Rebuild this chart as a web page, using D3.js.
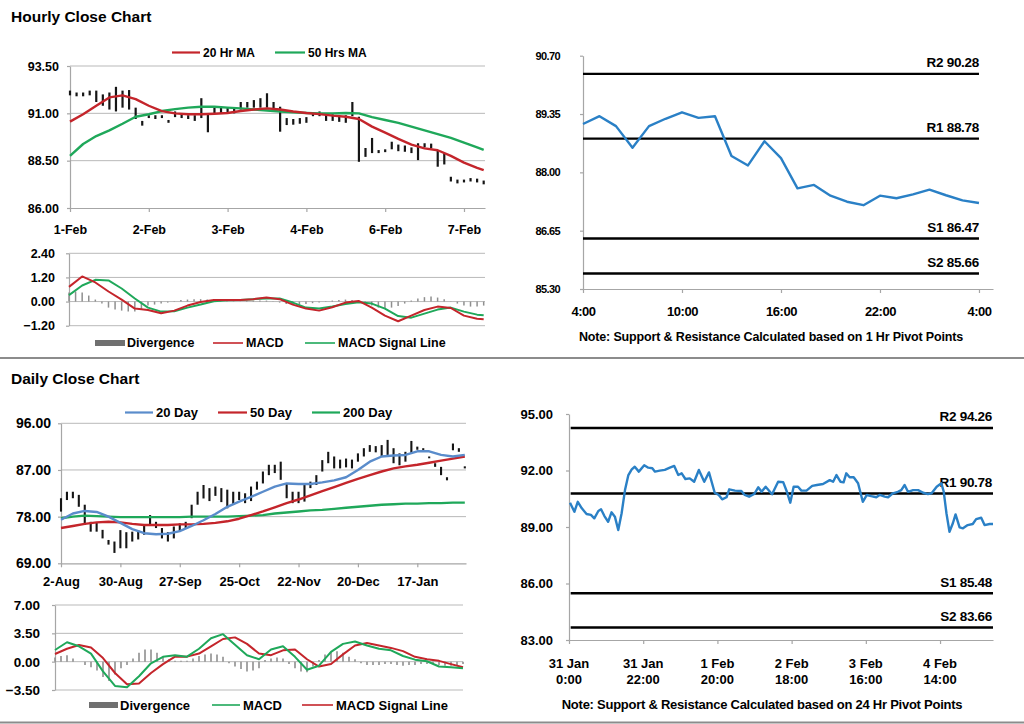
<!DOCTYPE html>
<html><head><meta charset="utf-8">
<script src="https://cdn.jsdelivr.net/npm/d3@7"></script>
<style>
body{margin:0;background:#fff;}
svg{display:block;font-family:"Liberation Sans",Arial,sans-serif;font-weight:bold;}
</style></head><body>
<svg id="c" width="1024" height="724"></svg>
<script>
// ---------------- DATA ----------------
// Hourly close chart (hours since 1-Feb 0:00, bars every 2 hours)
const hourlyTickHours = [0,24,48,72,96,120];
const hourlyTickLabels = ["1-Feb","2-Feb","3-Feb","4-Feb","6-Feb","7-Feb"];
const hourlyYTicks = [86.00,88.50,91.00,93.50];
const hourlyHigh = [92.2,92.1,92.1,92.2,92.2,92.0,92.1,92.4,92.2,92.23,91.3,90.6,90.9,90.9,90.9,90.65,91.1,91.0,90.9,90.9,91.8,91.0,91.3,91.35,91.3,91.3,91.6,91.6,91.7,91.8,92.06,91.6,91.35,90.75,90.7,90.75,90.8,91.05,91.1,91.0,90.95,90.9,90.9,91.6,90.82,89.17,89.7,89.06,89.1,89.5,89.35,89.3,89.2,89.42,89.42,89.4,89.06,88.9,87.65,87.5,87.5,87.58,87.55,87.45];
const hourlyLow  = [91.95,91.9,91.9,91.95,91.6,91.4,91.2,91.1,91.3,91.2,90.7,90.35,90.75,90.7,90.75,90.5,90.8,90.75,90.7,90.6,90.75,90.0,91.0,91.0,91.05,91.0,91.2,91.3,91.3,91.3,91.3,91.2,90.03,90.38,90.4,90.45,90.5,90.85,90.85,90.6,90.6,90.55,90.5,90.85,88.44,88.7,88.9,88.9,88.95,89.1,89.0,88.97,88.9,88.53,89.2,89.15,88.18,88.3,87.4,87.3,87.35,87.4,87.35,87.25];
const hourlyMAHours = [0,4,8,12,16,20,24,28,32,36,40,44,48,52,56,60,64,68,72,76,80,84,88,92,96,100,104,108,112,116,120,124,126];
const ma20Hr = [90.56,90.95,91.4,91.84,91.95,91.75,91.4,91.12,91.0,90.95,90.95,90.98,91.02,91.12,91.2,91.26,91.2,91.1,91.02,90.96,90.88,90.82,90.7,90.3,89.98,89.65,89.35,89.15,89.05,88.75,88.4,88.12,88.0];
const ma50Hr = [88.75,89.38,89.8,90.1,90.45,90.82,90.95,91.12,91.22,91.3,91.35,91.35,91.3,91.26,91.2,91.15,91.1,91.05,91.02,91.0,91.0,91.02,91.0,90.8,90.65,90.5,90.3,90.1,89.9,89.7,89.45,89.2,89.07];
const hourlyMacdYTicks = [-1.20,0.00,1.20,2.40];
const hourlyMacd   = [0.73,1.25,0.95,0.5,0.1,-0.35,-0.42,-0.58,-0.45,-0.2,-0.02,0.08,0.08,0.08,0.12,0.2,0.12,-0.15,-0.35,-0.45,-0.28,-0.05,0.03,-0.3,-0.7,-0.98,-0.7,-0.42,-0.25,-0.32,-0.7,-0.85,-0.88];
const hourlySignal = [0.32,0.8,1.08,1.05,0.65,0.15,-0.3,-0.5,-0.48,-0.3,-0.15,0.02,0.06,0.08,0.12,0.15,0.15,-0.05,-0.3,-0.35,-0.25,-0.12,-0.03,-0.1,-0.35,-0.72,-0.8,-0.6,-0.4,-0.3,-0.5,-0.65,-0.68];
const hourlyDivergence = [0.45,0.5,0.45,0.3,0.1,-0.1,-0.3,-0.4,-0.45,-0.5,-0.5,-0.4,-0.2,-0.15,-0.1,-0.05,0.02,0.08,0.1,0.12,0.12,0.1,0.08,0.05,0.03,0.02,0.02,0.03,0.04,0.05,0.05,0.02,-0.05,-0.12,-0.15,-0.15,-0.12,-0.08,-0.05,0.02,0.05,0.08,0.1,0.08,0.02,-0.1,-0.2,-0.3,-0.32,-0.3,-0.22,-0.1,0.05,0.15,0.22,0.25,0.2,0.12,0.02,-0.1,-0.2,-0.25,-0.25,-0.2];

// Hourly pivot chart (24 hours, 4:00 -> 4:00)
const pivotHourTicks = [0,6,12,18,24];
const pivotHourLabels = ["4:00","10:00","16:00","22:00","4:00"];
const pivotHourYTicks = [85.30,86.65,88.00,89.35,90.70];
const pivotHourClose = [89.12,89.30,89.07,88.57,89.07,89.24,89.39,89.26,89.30,88.38,88.16,88.72,88.33,87.63,87.71,87.46,87.32,87.24,87.46,87.40,87.49,87.60,87.47,87.35,87.29];
const pivotHourLevels = [{name:"R2",v:90.28},{name:"R1",v:88.78},{name:"S1",v:86.47},{name:"S2",v:85.66}];

// Daily close chart (trading days since 2-Aug, bars every 2 days)
const dailyTickDays = [0,20,40,60,80,100,120];
const dailyTickLabels = ["2-Aug","30-Aug","27-Sep","25-Oct","22-Nov","20-Dec","17-Jan"];
const dailyYTicks = [69.00,78.00,87.00,96.00];
const dailyHigh = [81.55,82.8,82.8,82.2,80.3,77.0,76.8,75.45,73.5,73.2,75.4,75.0,75.1,75.4,76.4,78.3,77.0,75.8,75.0,76.1,76.7,77.0,80.3,82.8,84.1,83.5,83.8,83.5,83.2,82.8,82.8,82.5,83.8,84.75,86.7,88.0,88.0,88.6,84.4,82.8,82.8,84.1,84.75,86.0,88.9,90.5,89.6,89.0,89.2,89.0,90.2,91.2,91.8,91.6,91.8,92.8,91.2,90.2,90.5,92.6,91.5,91.2,89.6,88.3,87.6,85.6,92.1,91.2,87.7];
const dailyLow  = [78.97,81.2,81.55,79.9,76.4,75.1,75.1,73.8,72.6,71.0,71.9,71.9,73.2,73.6,74.5,76.4,75.8,73.8,73.2,73.8,75.1,75.8,77.7,80.3,81.5,81.0,82.0,80.8,79.6,80.3,81.2,80.6,81.0,83.2,84.4,86.0,86.4,85.1,81.55,80.6,80.6,80.9,83.5,84.1,86.7,88.3,87.3,87.3,87.5,87.3,88.6,89.6,90.5,90.4,89.6,89.9,88.3,87.9,88.6,90.2,90.9,90.9,89.3,87.6,86.0,85.0,90.8,90.5,87.3];
const dailyMADays = [0,4,8,12,16,20,24,28,32,36,40,44,48,52,56,60,64,68,72,76,80,84,88,92,96,100,104,108,112,116,120,124,128,132,136];
const ma20Day  = [77.4,78.6,79.1,78.9,78.0,76.8,75.6,74.8,74.6,74.7,75.2,76.2,77.3,78.5,79.9,80.9,81.8,82.8,83.8,84.4,84.3,84.3,84.6,85.0,85.6,87.0,88.6,89.6,89.8,89.9,90.6,90.6,89.9,89.6,89.9];
const ma50Day  = [75.8,76.2,76.6,76.9,77.0,76.9,76.6,76.4,76.4,76.4,76.5,76.5,76.6,76.8,77.1,77.6,78.3,79.0,79.8,80.6,81.3,82.1,82.9,83.7,84.5,85.3,86.0,86.7,87.3,87.7,88.0,88.4,88.8,89.2,89.6];
const ma200Day = [77.7,78.0,78.2,78.1,78.0,77.9,77.9,77.9,77.9,77.9,77.9,78.0,78.0,78.0,78.0,78.1,78.2,78.3,78.6,78.8,79.0,79.2,79.3,79.5,79.7,79.9,80.1,80.3,80.4,80.5,80.5,80.6,80.6,80.7,80.7];
const dailyMacdYTicks = [-3.50,0.00,3.50,7.00];
const dailyMacd   = [1.44,2.4,1.9,1.0,-1.2,-3.0,-3.17,-1.8,-0.2,0.6,0.8,0.62,1.6,2.9,3.4,2.1,0.8,0.3,1.5,1.9,0.6,-1.0,-0.5,1.2,2.2,2.5,2.0,1.6,1.4,0.7,0.25,0.05,-0.6,-0.7,-0.82];
const dailySignal = [0.95,1.6,2.05,1.75,0.45,-1.4,-2.8,-2.7,-1.4,-0.3,0.62,0.62,1.0,1.9,2.8,3.0,2.2,1.0,0.8,1.4,1.5,0.3,-0.6,-0.3,0.9,2.0,2.3,2.0,1.7,1.3,0.6,0.3,0.1,-0.3,-0.7];
const dailyDivergence = [0.5,0.7,0.8,0.4,0.0,-0.4,-0.7,-1.1,-1.9,-2.4,-1.6,-0.8,-0.4,0.4,1.1,1.5,1.5,1.1,0.6,0.3,0.1,0.1,0.1,0.4,0.7,0.9,1.0,0.9,0.6,-0.2,-0.6,-0.9,-1.2,-1.1,-0.8,0.2,0.4,0.5,0.4,-0.3,-0.8,-1.2,-1.3,-0.6,0.2,0.9,1.2,1.3,1.1,0.6,0.3,-0.2,-0.4,-0.4,-0.4,-0.3,-0.3,-0.4,-0.5,-0.4,-0.4,-0.3,-0.3,-0.3,-0.4,-0.5,-0.5,-0.4,-0.3];

// 24 hr pivot chart (hours since 31 Jan 0:00)
const pivotDayTicks = [0,22,44,66,88,110];
const pivotDayLabels = [["31 Jan","0:00"],["31 Jan","22:00"],["1 Feb","20:00"],["2 Feb","18:00"],["3 Feb","16:00"],["4 Feb","14:00"]];
const pivotDayYTicks = [83.00,86.00,89.00,92.00,95.00];
const pivotDayHours = [0.3,1.6,2.6,3.8,5.2,6.5,7.5,8.7,9.5,10.5,11.6,12.6,13.6,14.6,15.6,16.6,17.6,18.6,19.5,20.7,22.3,23.5,24.7,25.5,26.9,28.4,29.9,31.2,32.4,33.4,34.5,35.8,37.1,38.5,40.1,41.5,43.2,44.4,45.4,46.7,47.5,49.2,51.1,52.1,53.4,54.9,56.1,57.1,58.3,60.2,62,63.5,64.6,65.6,66.6,67.9,68.9,70.4,72.1,73.5,75.3,77.3,78.3,79.3,80.5,81.4,82.2,83.2,84.4,85.7,87.1,88.3,89.6,91.1,92.1,93.6,94.6,96,97.5,98.5,99.5,100.5,102,103.5,105,106.4,107.5,109,110.4,111.1,111.9,112.8,113.8,114.6,115.8,116.8,118.2,119.7,120.7,122.2,123.2,124.7,125.7];
const pivotDayClose = [90.29,89.81,90.34,89.99,89.69,89.64,89.46,89.85,89.94,89.58,89.28,89.78,89.55,88.84,89.73,90.96,91.76,92.06,92.2,91.94,92.28,92.15,92.12,91.94,91.99,92.03,92.15,92.24,91.76,91.85,91.55,91.58,91.4,92.03,91.4,91.9,90.82,90.7,90.47,90.58,91.0,90.93,90.91,90.7,90.61,90.75,91.11,90.87,91.14,90.74,91.4,91.38,90.87,90.29,91.14,91.14,90.93,90.93,91.18,91.23,91.28,91.49,91.4,91.76,91.4,91.37,91.85,91.64,91.64,91.32,90.34,90.7,90.64,90.58,90.7,90.61,90.58,90.79,90.87,90.96,91.23,90.87,90.96,90.96,90.82,90.75,90.79,91.14,91.32,90.87,89.73,88.75,89.2,89.67,88.98,88.93,89.1,89.16,89.42,89.49,89.1,89.16,89.16];
const pivotDayLevels = [{name:"R2",v:94.26},{name:"R1",v:90.78},{name:"S1",v:85.48},{name:"S2",v:83.66}];

// ---------------- DRAWING ----------------
const svg = d3.select("#c");
const FONT = '"Liberation Sans", Arial, sans-serif';
const GRID = "#b9b9b9", AXIS = "#a6a6a6";
const RED = "#c4252b", GREEN = "#1fa85a", BLUE = "#5a8ccb", LBLUE = "#2a80c6", DIV = "#8f8f8f";
const f2 = d3.format(".2f");

function styleAxis(g, fs, ls) {
  g.attr("font-family", FONT).attr("font-size", fs).attr("font-weight", "bold");
  g.select(".domain").attr("stroke", AXIS).attr("stroke-width", 1.2);
  g.selectAll(".tick line").attr("stroke", AXIS).attr("stroke-width", 1.2);
  g.selectAll(".tick text").attr("fill", "#000").style("letter-spacing", ls || "0px");
}
function leftAxis(y, x0, ticks, fs, pad, ls) {
  const g = svg.append("g").attr("transform", `translate(${x0},0)`)
    .call(d3.axisLeft(y).tickValues(ticks).tickFormat("").tickSize(3).tickSizeOuter(0));
  styleAxis(g, fs, ls);
  ticks.forEach(t => {
    svg.append("text")
      .attr("x", x0 - 3 - pad).attr("y", y(t) + fs * 0.36)
      .attr("font-family", FONT).attr("font-size", fs).attr("font-weight", "bold")
      .attr("text-anchor", "end").attr("fill", "#000")
      .style("letter-spacing", ls || "0px").text(f2(t));
  });
  return g;
}
function bottomAxis(x, y0, ticks, labels, fs, pad, ls) {
  const g = svg.append("g").attr("transform", `translate(0,${y0})`)
    .call(d3.axisBottom(x).tickValues(ticks).tickFormat((d, i) => labels ? labels[i] : "").tickSize(4).tickSizeOuter(0).tickPadding(pad));
  styleAxis(g, fs, ls);
  return g;
}
function grid(x, y, ticks) {
  svg.append("g").selectAll("line").data(ticks).join("line")
    .attr("x1", x.range()[0]).attr("x2", x.range()[1])
    .attr("y1", d => y(d)).attr("y2", d => y(d))
    .attr("stroke", GRID).attr("stroke-width", 1);
}
function line(xs, vals, x, y, color, w) {
  svg.append("path").datum(vals.map((v, i) => [xs[i], v]))
    .attr("d", d3.line().x(d => x(d[0])).y(d => y(d[1])))
    .attr("fill", "none").attr("stroke", color).attr("stroke-width", w).attr("stroke-linejoin", "round");
}
function bars(xs, hi, lo, x, y, w) {
  svg.append("g").selectAll("line").data(hi).join("line")
    .attr("x1", (d, i) => x(xs[i])).attr("x2", (d, i) => x(xs[i]))
    .attr("y1", d => y(d)).attr("y2", (d, i) => Math.max(y(lo[i]), y(d) + 1.8))
    .attr("stroke", "#151515").attr("stroke-width", w);
}
function divBars(xs, vals, x, y, w) {
  svg.append("g").selectAll("line").data(vals).join("line")
    .attr("x1", (d, i) => x(xs[i])).attr("x2", (d, i) => x(xs[i]))
    .attr("y1", y(0)).attr("y2", d => y(d))
    .attr("stroke", DIV).attr("stroke-width", w);
}
function text(x, y, s, fs, anchor, ls) {
  return svg.append("text").attr("x", x).attr("y", y).attr("font-family", FONT).attr("font-size", fs)
    .attr("font-weight", "bold").attr("text-anchor", anchor || "start").attr("dominant-baseline", "central")
    .style("letter-spacing", ls || "0px").text(s);
}
function legendLine(x1, x2, y, color, label, fs, w) {
  svg.append("line").attr("x1", x1).attr("x2", x2).attr("y1", y).attr("y2", y).attr("stroke", color).attr("stroke-width", w || 2.2);
  text(x2 + 3, y, label, fs);
}
function legendRect(x1, x2, y, label, fs) {
  svg.append("rect").attr("x", x1).attr("y", y - 3).attr("width", x2 - x1).attr("height", 6).attr("fill", "#707070");
  text(x2 + 2, y, label, fs);
}

// separators
svg.append("line").attr("x1", 0).attr("x2", 1024).attr("y1", 358).attr("y2", 358).attr("stroke", "#8c8c8c").attr("stroke-width", 1.8);
svg.append("line").attr("x1", 0).attr("x2", 1024).attr("y1", 722.5).attr("y2", 722.5).attr("stroke", "#8c8c8c").attr("stroke-width", 1.8);

// ===== Hourly close chart =====
text(11, 16, "Hourly Close Chart", 15.5);
legendLine(172, 200, 52.5, RED, "20 Hr MA", 12, 2.2);
legendLine(275, 305, 52.5, GREEN, "50 Hrs MA", 12, 2.2);
const xH = d3.scaleLinear([0, 126.4], [70, 485]);
const yH = d3.scaleLinear([86, 93.5], [208, 66]);
grid(xH, yH, hourlyYTicks.slice(1));
leftAxis(yH, 70, hourlyYTicks, 12.5, 8);
bottomAxis(xH, 208, hourlyTickHours, hourlyTickLabels, 12.5, 13);
bars(d3.range(0, 127, 2), hourlyHigh, hourlyLow, xH, yH, 2.2);
line(hourlyMAHours, ma50Hr, xH, yH, GREEN, 2.4);
line(hourlyMAHours, ma20Hr, xH, yH, RED, 2.4);

// Hourly MACD
const xHM = d3.scaleLinear([0, 126.4], [69, 485]);
const yHM = d3.scaleLinear([-1.2, 2.4], [325.7, 253.3]);
grid(xHM, yHM, hourlyMacdYTicks);
leftAxis(yHM, 69, hourlyMacdYTicks, 12.5, 11);
divBars(d3.range(0, 127, 2), hourlyDivergence, xHM, yHM, 1.5);
line(hourlyMAHours, hourlySignal, xHM, yHM, GREEN, 2);
line(hourlyMAHours, hourlyMacd, xHM, yHM, RED, 2);
legendRect(95, 125, 343, "Divergence", 12.5);
legendLine(213, 243, 343, RED, "MACD", 12.5, 1.6);
legendLine(305, 335, 343, GREEN, "MACD Signal Line", 12.5, 1.6);

// ===== Hourly pivot chart =====
const xP = d3.scaleLinear([0, 24.85], [583, 993]);
const yP = d3.scaleLinear([85.3, 90.7], [289, 55.7]);
leftAxis(yP, 583, pivotHourYTicks, 11, 20, "-0.6px");
bottomAxis(xP, 289, pivotHourTicks, pivotHourLabels, 13, 14, "-0.5px");
svg.append("g").selectAll("line").data(pivotHourLevels).join("line")
  .attr("x1", xP(0)).attr("x2", xP(24)).attr("y1", d => yP(d.v)).attr("y2", d => yP(d.v))
  .attr("stroke", "#000").attr("stroke-width", 2.4);
pivotHourLevels.forEach(d => text(xP(24), yP(d.v) - 11, d.name + " " + f2(d.v), 13.5, "end", "-0.3px"));
line(d3.range(0, 25), pivotHourClose, xP, yP, LBLUE, 2.4);
text(771, 337, "Note: Support & Resistance Calculated based on 1 Hr Pivot Points", 12.5, "middle", "-0.15px");

// ===== Daily close chart =====
text(11, 378.5, "Daily Close Chart", 15.5);
legendLine(125, 153, 412.5, BLUE, "20 Day", 13, 2.2);
legendLine(218, 247, 412.5, RED, "50 Day", 13, 2.2);
legendLine(312, 340, 412.5, GREEN, "200 Day", 13, 2.2);
const xDa = d3.scaleLinear([0, 136.4], [61, 466]);
const yDa = d3.scaleLinear([69, 96], [563.3, 423.3]);
grid(xDa, yDa, dailyYTicks.slice(1));
leftAxis(yDa, 61, dailyYTicks, 14, 7);
bottomAxis(xDa, 563.3, dailyTickDays, dailyTickLabels, 13, 9.5);
bars(d3.range(0, 137, 2), dailyHigh, dailyLow, xDa, yDa, 2.1);
line(dailyMADays, ma200Day, xDa, yDa, GREEN, 2.4);
line(dailyMADays, ma50Day, xDa, yDa, RED, 2.4);
line(dailyMADays, ma20Day, xDa, yDa, BLUE, 2.4);

// Daily MACD
const xDM = d3.scaleLinear([0, 136], [55, 463]);
const yDM = d3.scaleLinear([-3.5, 7], [690, 605]);
grid(xDM, yDM, dailyMacdYTicks);
leftAxis(yDM, 55, dailyMacdYTicks, 13.5, 12);
divBars(d3.range(0, 137, 2), dailyDivergence, xDM, yDM, 1.6);
line(dailyMADays, dailySignal, xDM, yDM, RED, 2);
line(dailyMADays, dailyMacd, xDM, yDM, GREEN, 2);
legendRect(89, 118, 705, "Divergence", 13);
legendLine(212, 240, 705, GREEN, "MACD", 13, 1.6);
legendLine(302, 333, 705, RED, "MACD Signal Line", 13, 1.6);

// ===== 24 hr pivot chart =====
const xD = d3.scaleLinear([0, 125.7], [569, 993]);
const yD = d3.scaleLinear([83, 95], [640, 414]);
leftAxis(yD, 569, pivotDayYTicks, 13, 13);
bottomAxis(xD, 640, pivotDayTicks, null, 13, 8);
pivotDayTicks.forEach((t, i) => {
  text(xD(t), 663, pivotDayLabels[i][0], 13, "middle");
  text(xD(t), 679.5, pivotDayLabels[i][1], 13, "middle");
});
svg.append("g").selectAll("line").data(pivotDayLevels).join("line")
  .attr("x1", xD(0.5)).attr("x2", xD(125.7)).attr("y1", d => yD(d.v)).attr("y2", d => yD(d.v))
  .attr("stroke", "#000").attr("stroke-width", 2.4);
pivotDayLevels.forEach(d => text(xD(125.4), yD(d.v) - 11, d.name + " " + f2(d.v), 13.5, "end", "-0.3px"));
line(pivotDayHours, pivotDayClose, xD, yD, LBLUE, 2.4);
text(762, 704.5, "Note: Support & Resistance Calculated based on 24 Hr Pivot Points", 13, "middle", "-0.25px");
</script>
</body></html>
